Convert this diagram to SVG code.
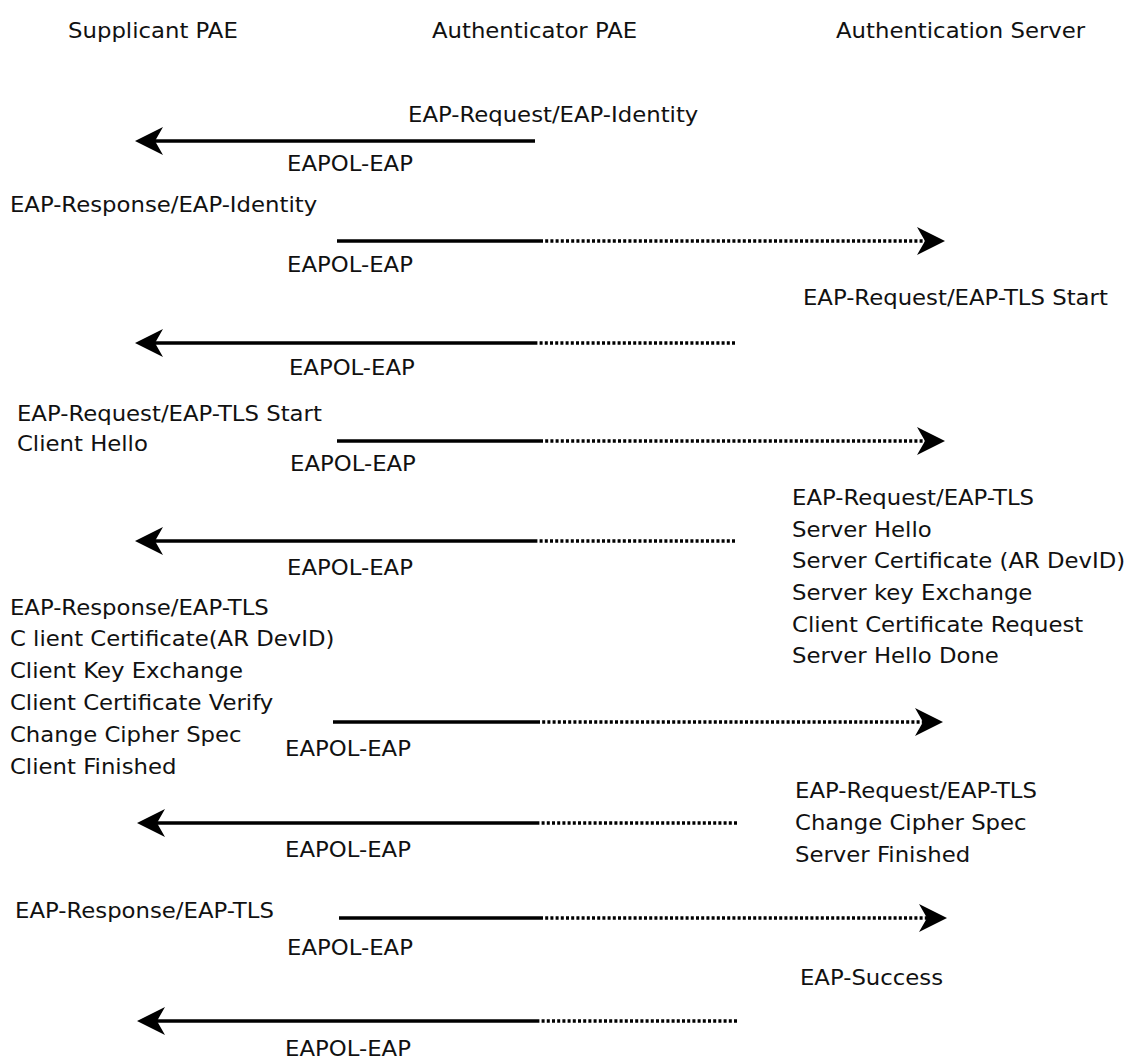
<svg xmlns="http://www.w3.org/2000/svg" width="1128" height="1061" viewBox="0 0 1128 1061">
<defs>
<style>
.t{font-family:"DejaVu Sans",Verdana,sans-serif;font-size:21.5px;fill:#111}
.s{stroke:#000;stroke-width:3.3;fill:none}
.d{stroke:#000;stroke-width:3.3;fill:none;stroke-dasharray:3 2.2}
</style>
<marker id="ah" viewBox="0 0 28 28" refX="8" refY="14" markerWidth="28" markerHeight="28" markerUnits="userSpaceOnUse" orient="auto">
<path d="M0,0 L28,14 L0,28 L8,14 Z" fill="#000"/>
</marker>
</defs>
<rect width="1128" height="1061" fill="#fff"/>
<g id="connectors">
<line class="s" x1="535" y1="141" x2="155" y2="141" marker-end="url(#ah)"/>
<line class="s" x1="337" y1="241" x2="540" y2="241"/>
<line class="d" x1="540" y1="241" x2="925" y2="241" marker-end="url(#ah)"/>
<line class="d" x1="735" y1="343" x2="535" y2="343"/>
<line class="s" x1="535" y1="343" x2="155" y2="343" marker-end="url(#ah)"/>
<line class="s" x1="337" y1="441" x2="540" y2="441"/>
<line class="d" x1="540" y1="441" x2="925" y2="441" marker-end="url(#ah)"/>
<line class="d" x1="735" y1="541" x2="535" y2="541"/>
<line class="s" x1="535" y1="541" x2="155" y2="541" marker-end="url(#ah)"/>
<line class="s" x1="333" y1="722" x2="537" y2="722"/>
<line class="d" x1="537" y1="722" x2="923" y2="722" marker-end="url(#ah)"/>
<line class="d" x1="737" y1="823" x2="537" y2="823"/>
<line class="s" x1="537" y1="823" x2="157" y2="823" marker-end="url(#ah)"/>
<line class="s" x1="339" y1="918" x2="540" y2="918"/>
<line class="d" x1="540" y1="918" x2="927" y2="918" marker-end="url(#ah)"/>
<line class="d" x1="737" y1="1021" x2="537" y2="1021"/>
<line class="s" x1="537" y1="1021" x2="157" y2="1021" marker-end="url(#ah)"/>
</g>
<g transform="scale(1.06,1)">
<g id="supplicant"><text class="t" x="64.2" y="38">Supplicant PAE</text></g>
<g id="authenticator"><text class="t" x="407.5" y="38">Authenticator PAE</text></g>
<g id="server"><text class="t" x="788.7" y="38">Authentication Server</text></g>
<g id="labels">
<text class="t" x="384.9" y="122">EAP-Request/EAP-Identity</text>
<text class="t" x="270.8" y="171">EAPOL-EAP</text>
<text class="t" x="9.4" y="212">EAP-Response/EAP-Identity</text>
<text class="t" x="270.8" y="272">EAPOL-EAP</text>
<text class="t" x="757.5" y="305">EAP-Request/EAP-TLS Start</text>
<text class="t" x="272.6" y="375">EAPOL-EAP</text>
<text class="t" x="16" y="421">EAP-Request/EAP-TLS Start</text>
<text class="t" x="16" y="451">Client Hello</text>
<text class="t" x="273.6" y="471">EAPOL-EAP</text>
<text class="t" x="747.2" y="505">EAP-Request/EAP-TLS</text>
<text class="t" x="747.2" y="537">Server Hello</text>
<text class="t" x="747.2" y="568">Server Certificate (AR DevID)</text>
<text class="t" x="747.2" y="600">Server key Exchange</text>
<text class="t" x="747.2" y="632">Client Certificate Request</text>
<text class="t" x="747.2" y="663">Server Hello Done</text>
<text class="t" x="270.8" y="575">EAPOL-EAP</text>
<text class="t" x="9.4" y="615">EAP-Response/EAP-TLS</text>
<text class="t" x="9.4" y="646">C lient Certificate(AR DevID)</text>
<text class="t" x="9.4" y="678">Client Key Exchange</text>
<text class="t" x="9.4" y="710">Client Certificate Verify</text>
<text class="t" x="9.4" y="742">Change Cipher Spec</text>
<text class="t" x="9.4" y="774">Client Finished</text>
<text class="t" x="268.9" y="756">EAPOL-EAP</text>
<text class="t" x="750" y="798">EAP-Request/EAP-TLS</text>
<text class="t" x="750" y="830">Change Cipher Spec</text>
<text class="t" x="750" y="862">Server Finished</text>
<text class="t" x="268.9" y="857">EAPOL-EAP</text>
<text class="t" x="14.2" y="918">EAP-Response/EAP-TLS</text>
<text class="t" x="270.8" y="955">EAPOL-EAP</text>
<text class="t" x="754.7" y="985">EAP-Success</text>
<text class="t" x="268.9" y="1056">EAPOL-EAP</text>
</g>
</g>
</svg>
